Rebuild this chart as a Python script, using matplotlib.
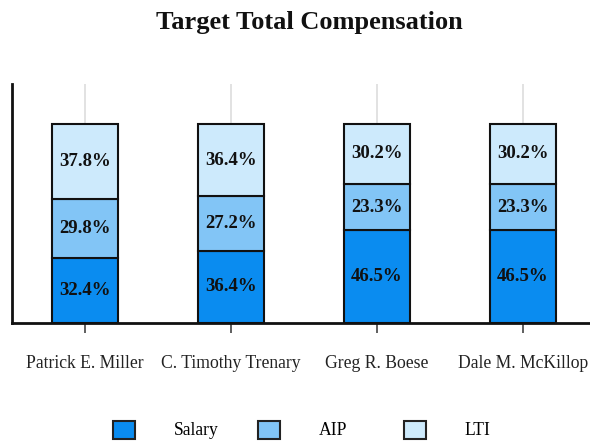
import matplotlib
matplotlib.use("Agg")
import matplotlib.pyplot as plt
from matplotlib.patches import Patch
import numpy as np

names = ["Patrick E. Miller", "C. Timothy Trenary", "Greg R. Boese", "Dale M. McKillop"]
salary = [32.4, 36.4, 46.5, 46.5]
aip = [29.8, 27.2, 23.3, 23.3]
lti = [37.8, 36.4, 30.2, 30.2]
series_names = ["Salary", "AIP", "LTI"]
colors = ["#0a8cf0", "#82c5f6", "#cdeafc"]

plt.rcParams['font.family'] = ['Liberation Serif', 'DejaVu Serif']

fig = plt.figure(figsize=(5.9, 4.41), dpi=100)
ax = fig.add_axes([12/590, 1-323/441, 1-12/590, (323-84)/441])

x = np.arange(len(names))
bottom = np.zeros(len(names))
for vals, col in zip([salary, aip, lti], colors):
    ax.bar(x, vals, width=0.45, bottom=bottom, color=col,
           edgecolor="#111111", linewidth=1.5, zorder=3)
    for xi, b, v in zip(x, bottom, vals):
        ax.text(xi, b + v/2, f"{v:.1f}%", ha="center", va="center",
                fontsize=13.5, fontweight="bold", color="#111111", zorder=4)
    bottom = bottom + np.array(vals)

ax.set_xlim(-0.5, (590-85)/146)
ax.set_ylim(0, 120)
ax.set_xticks(x)
ax.set_xticklabels(names, fontsize=12.7, color="#222222")
ax.tick_params(axis='x', length=7, width=1.2, color="#444444", pad=16)
ax.set_yticks([])
ax.grid(axis='x', color="#dddddd", linewidth=1.2, zorder=0)
for s in ["top", "right"]:
    ax.spines[s].set_visible(False)
for s in ["left", "bottom"]:
    ax.spines[s].set_linewidth(2)
    ax.spines[s].set_color("#111111")

fig.text(309/590, 1-23/441, "Target Total Compensation", ha="center", va="center",
         fontsize=19, fontweight="bold", color="#111111")

legend_left = [113, 258, 404]
for lx, name, c in zip(legend_left, series_names, colors):
    h = Patch(facecolor=c, edgecolor="#222222", linewidth=1.5)
    fig.legend([h], [name], loc="center left", bbox_to_anchor=(lx/590, 1-430/441),
               frameon=False, fontsize=12.7, handlelength=1.25, handleheight=1.2,
               handletextpad=2.2, borderpad=0, borderaxespad=0)

fig.savefig("out.png", dpi=100)
